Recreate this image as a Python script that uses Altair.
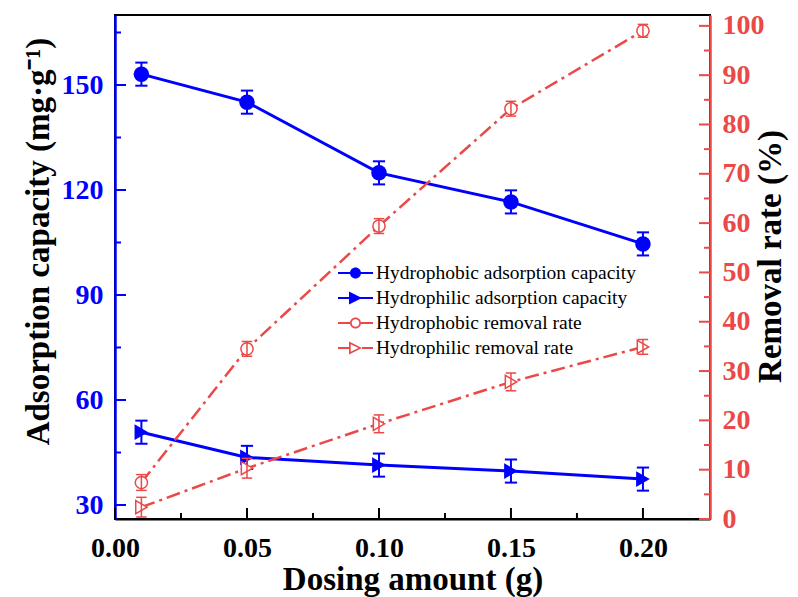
import altair as alt
import pandas as pd

# ---------------- data ----------------
dose = [0.01, 0.05, 0.10, 0.15, 0.20]
phob_cap = [153.1, 145.1, 124.9, 116.6, 104.6]
phob_cap_err = [3.3, 3.3, 3.3, 3.3, 3.3]
phil_cap = [50.8, 43.6, 41.4, 39.7, 37.4]
phil_cap_err = [3.3, 3.3, 3.3, 3.3, 3.3]
phob_rate = [7.4, 34.5, 59.4, 83.2, 99.0]
phob_rate_err = [1.6, 1.5, 1.5, 1.5, 1.3]
phil_rate = [2.4, 10.3, 19.3, 27.8, 34.9]
phil_rate_err = [2.0, 2.0, 1.8, 1.8, 1.5]

series_names = [
    "Hydrophobic adsorption capacity",
    "Hydrophilic adsorption capacity",
    "Hydrophobic removal rate",
    "Hydrophilic removal rate",
]

x_major = [0.0, 0.05, 0.10, 0.15, 0.20]
x_minor = [0.025, 0.075, 0.125, 0.175]
left_major = [30, 60, 90, 120, 150]
left_minor = [45, 75, 105, 135, 165]
right_major = [0, 10, 20, 30, 40, 50, 60, 70, 80, 90, 100]
right_minor = [5, 15, 25, 35, 45, 55, 65, 75, 85, 95]

X_DOMAIN = [0, 0.2254]
L_DOMAIN = [26, 170]
R_DOMAIN = [0, 102.2]

BLUE = "#0000FF"
RED = "#EB4848"
FONT = "Liberation Serif"
W, H = 595, 504

# legend symbols (line + marker), drawn as filled paths
P_BLUE_CIRCLE = ("M-2.5,-0.1H1V0.1H-2.5Z "
                 "M-1.3,0A0.55,0.55 0 1,1 -0.2,0A0.55,0.55 0 1,1 -1.3,0Z")
P_BLUE_TRI = ("M-2.5,-0.1H1V0.1H-2.5Z "
              "M-1.4,-0.65L-0.1,0L-1.4,0.65Z")
P_RED_CIRCLE = ("M-2.5,-0.1H-1.3V0.1H-2.5Z M-0.2,-0.1H1V0.1H-0.2Z "
                "M-1.3,0A0.55,0.55 0 1,1 -0.2,0A0.55,0.55 0 1,1 -1.3,0Z "
                "M-1.13,0A0.38,0.38 0 1,0 -0.37,0A0.38,0.38 0 1,0 -1.13,0Z")
P_RED_TRI = ("M-2.5,-0.1H-1.4V0.1H-2.5Z M-0.1,-0.1H1V0.1H-0.1Z "
             "M-1.4,-0.65L-0.1,0L-1.4,0.65Z "
             "M-1.23,-0.38L-1.23,0.38L-0.45,0Z")


def sdf(vals, errs, name):
    return pd.DataFrame({
        "x": dose,
        "v": vals,
        "lo": [v - e for v, e in zip(vals, errs)],
        "hi": [v + e for v, e in zip(vals, errs)],
        "s": name,
    })


d_phob_cap = sdf(phob_cap, phob_cap_err, series_names[0])
d_phil_cap = sdf(phil_cap, phil_cap_err, series_names[1])
d_phob_rate = sdf(phob_rate, phob_rate_err, series_names[2])
d_phil_rate = sdf(phil_rate, phil_rate_err, series_names[3])

xs = alt.Scale(domain=X_DOMAIN, nice=False, zero=False)
ls = alt.Scale(domain=L_DOMAIN, nice=False, zero=False)
rs = alt.Scale(domain=R_DOMAIN, nice=False, zero=False)

X_TITLE = "Dosing amount (g)"
L_TITLE = "Adsorption capacity (mg·g⁻¹)"
R_TITLE = "Removal rate (%)"

bottom_axis = alt.Axis(orient="bottom", values=x_major, format=".2f", ticks=False, tickSize=0,
                       domainColor="black", domainWidth=2, labelColor="black", labelPadding=15,
                       titleY=60, titleBaseline="middle")
left_axis = alt.Axis(orient="left", values=left_major, format="d", ticks=False, tickSize=0,
                     domainColor=BLUE, domainWidth=2.5, labelColor=BLUE, labelPadding=12,
                     titleX=-77, titleY=226, titleAngle=270, titleBaseline="middle")
right_axis = alt.Axis(orient="right", values=right_major, format="d", ticks=False, tickSize=0,
                      domainColor=RED, domainWidth=2.5, labelColor=RED, labelPadding=12,
                      titleX=60, titleY=241, titleAngle=270, titleBaseline="middle")


def X(field="x:Q"):
    return alt.X(field, scale=xs, axis=bottom_axis, title=X_TITLE)


def YL(field="v:Q"):
    return alt.Y(field, scale=ls, axis=left_axis, title=L_TITLE)


def YR(field="v:Q"):
    return alt.Y(field, scale=rs, axis=right_axis, title=R_TITLE)


# ---------------- left (blue) group ----------------
l_line1 = alt.Chart(d_phob_cap).mark_line(color=BLUE, strokeWidth=3).encode(x=X(), y=YL())
l_line2 = alt.Chart(d_phil_cap).mark_line(color=BLUE, strokeWidth=3).encode(x=X(), y=YL())

l_err = []
for d in (d_phob_cap, d_phil_cap):
    l_err.append(alt.Chart(d).mark_rule(color=BLUE, strokeWidth=2).encode(
        x=X(), y=YL("lo:Q"), y2="hi:Q"))
    l_err.append(alt.Chart(d).transform_fold(["lo", "hi"], as_=["k", "cv"]).mark_point(
        shape="stroke", size=150, color=BLUE, strokeWidth=2, opacity=1).encode(x=X(), y=YL("cv:Q")))

l_pts1 = alt.Chart(d_phob_cap).mark_point(shape="circle", filled=True, size=240, color=BLUE,
                                         opacity=1).encode(x=X(), y=YL())
l_pts2 = alt.Chart(d_phil_cap).mark_point(shape="triangle-right", filled=True, size=250,
                                         color=BLUE, opacity=1).encode(x=X(), y=YL())

xt_major = alt.Chart(pd.DataFrame({"t": x_major})).mark_rule(color="black", strokeWidth=2).encode(
    x=X("t:Q"), y=alt.value(H), y2=alt.value(H - 11))
xt_minor = alt.Chart(pd.DataFrame({"t": x_minor})).mark_rule(color="black", strokeWidth=2).encode(
    x=X("t:Q"), y=alt.value(H), y2=alt.value(H - 6))
lt_major = alt.Chart(pd.DataFrame({"t": left_major})).mark_rule(color=BLUE, strokeWidth=2).encode(
    y=YL("t:Q"), x=alt.value(0), x2=alt.value(11))
lt_minor = alt.Chart(pd.DataFrame({"t": left_minor})).mark_rule(color=BLUE, strokeWidth=2).encode(
    y=YL("t:Q"), x=alt.value(0), x2=alt.value(6))

leg = alt.Legend(title=None, orient="none", legendX=238, legendY=248, labelFont=FONT,
                 labelFontSize=19.5, labelColor="black", labelFontWeight="normal",
                 symbolSize=400, symbolStrokeWidth=0, labelOffset=3, rowPadding=5,
                 padding=0, offset=0, labelLimit=400)
legend_layer = alt.Chart(pd.DataFrame({"s": series_names})).transform_filter("false").mark_point(
    filled=True, opacity=1).encode(
    color=alt.Color("s:N", scale=alt.Scale(domain=series_names, range=[BLUE, BLUE, RED, RED]),
                    legend=leg),
    shape=alt.Shape("s:N", scale=alt.Scale(domain=series_names,
                                           range=[P_BLUE_CIRCLE, P_BLUE_TRI, P_RED_CIRCLE, P_RED_TRI]),
                    legend=leg),
)

left_group = alt.layer(l_line1, l_line2, xt_major, xt_minor, lt_major, lt_minor, *l_err,
                       l_pts1, l_pts2, legend_layer)

# ---------------- right (red) group ----------------
DASH = [14, 5, 3, 5]
r_line1 = alt.Chart(d_phob_rate).mark_line(color=RED, strokeWidth=2.5, strokeDash=DASH).encode(
    x=X(), y=YR())
r_line2 = alt.Chart(d_phil_rate).mark_line(color=RED, strokeWidth=2.5, strokeDash=DASH).encode(
    x=X(), y=YR())
r_pts1 = alt.Chart(d_phob_rate).mark_point(shape="circle", filled=True, fill="white", stroke=RED,
                                          strokeWidth=1.5, size=150, opacity=1).encode(x=X(), y=YR())
r_pts2 = alt.Chart(d_phil_rate).mark_point(shape="triangle-right", filled=True, fill="white",
                                          stroke=RED, strokeWidth=1.5, size=170, opacity=1).encode(
    x=X(), y=YR())
r_err = []
for d in (d_phob_rate, d_phil_rate):
    r_err.append(alt.Chart(d).mark_rule(color=RED, strokeWidth=1.5).encode(
        x=X(), y=YR("lo:Q"), y2="hi:Q"))
    r_err.append(alt.Chart(d).transform_fold(["lo", "hi"], as_=["k", "cv"]).mark_point(
        shape="stroke", size=110, color=RED, strokeWidth=1.5, opacity=1).encode(x=X(), y=YR("cv:Q")))

rt_major = alt.Chart(pd.DataFrame({"t": right_major})).mark_rule(color=RED, strokeWidth=2).encode(
    y=YR("t:Q"), x=alt.value(W), x2=alt.value(W - 11))
rt_minor = alt.Chart(pd.DataFrame({"t": right_minor})).mark_rule(color=RED, strokeWidth=2).encode(
    y=YR("t:Q"), x=alt.value(W), x2=alt.value(W - 6))

right_group = alt.layer(r_line1, r_line2, rt_major, rt_minor, r_pts1, r_pts2, *r_err)

chart = alt.layer(left_group, right_group).resolve_scale(y="independent").properties(
    width=W, height=H,
    autosize=alt.AutoSizeParams(type="none"),
    padding={"left": 115, "top": 15, "right": 88, "bottom": 78},
).configure_axis(
    labelFont=FONT, labelFontWeight="bold", labelFontSize=28, labelFlush=False,
    titleFont=FONT, titleFontWeight="bold", titleFontSize=33, titleColor="black", grid=False,
).configure_view(stroke="black", strokeWidth=2)

chart.save("out.html", embed_options={"renderer": "svg", "actions": False})
